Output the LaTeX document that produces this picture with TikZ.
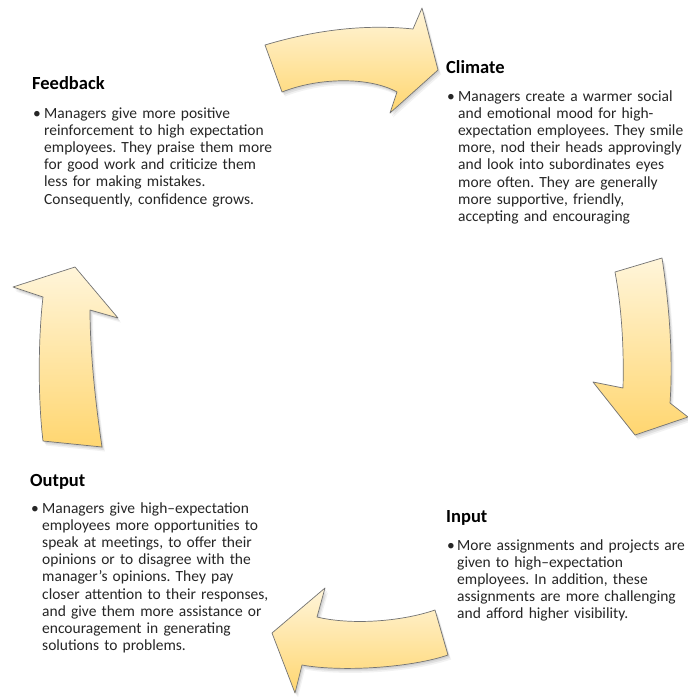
\documentclass[tikz,border=0pt]{standalone}
\usepackage{fontspec}
\setmainfont{Carlito}
\frenchspacing
\definecolor{arrtop}{RGB}{255,245,218}
\definecolor{arrbot}{RGB}{255,214,112}
\definecolor{arrline}{RGB}{115,115,115}
\definecolor{txt}{RGB}{38,38,38}
\def\toparrow{(265,45) .. controls (315,30) and (365,24) .. (413,29) -- (422,8) -- (438,70) -- (390,113) -- (397,92) .. controls (370,77) and (320,77) .. (282,92) -- cycle}
\def\rightarrow{(615,272) -- (662,258) .. controls (670,310) and (673,360) .. (670,403) -- (688,417) -- (635,435) -- (593,382) -- (623,388) .. controls (624,350) and (622,310) .. (615,272) -- cycle}
\def\bottomarrow{(435,610) -- (448,655) .. controls (410,668) and (340,672) .. (302,665) -- (295,693) -- (272,633) -- (325,588) -- (317,617) .. controls (350,625) and (400,622) .. (435,610) -- cycle}
\def\leftarrow{(43,441) .. controls (38,400) and (38,340) .. (43,297) -- (13,287) -- (75,267) -- (118,318) -- (90,310) .. controls (90,350) and (95,400) .. (102,447) -- cycle}
\begin{document}
\begin{tikzpicture}[x=1pt,y=-1pt,
  heading/.style={font=\fontsize{18.5}{22}\selectfont\bfseries, anchor=base west, inner sep=0pt, text=black},
  body/.style={font=\fontsize{15.5}{17.2}\selectfont, anchor=base west, inner sep=0pt, text width=262pt, align=left, text=txt},
  bul/.style={font=\fontsize{15.5}{17.2}\selectfont, anchor=base west, inner sep=0pt, text=txt},
  arrowshape/.style={draw=arrline, line width=0.7pt, line join=round, top color=arrtop, bottom color=arrbot},
  shadowa/.style={fill=black, opacity=0.07, shift={(1,1.5)}},
  shadowb/.style={fill=black, opacity=0.07, shift={(2,3)}},
  shadowc/.style={fill=black, opacity=0.05, shift={(3,4.5)}}]
\fill[white] (0,0) rectangle (688,697);
\path[use as bounding box] (0,0) rectangle (688,697);
% arrows
\foreach \a in {\toparrow,\rightarrow,\bottomarrow,\leftarrow}{
  \fill[shadowc] \a;
  \fill[shadowb] \a;
  \fill[shadowa] \a;
  \shade[arrowshape] \a;
}
% Feedback
\node[heading] (fbh) at (32,89) {Feedback};
\node[bul] (fbb) at (33,118) {•};
\node[body] (fbt) at (44,118) {Managers give more positive\\reinforcement to high expectation\\employees. They praise them more\\for good work and criticize them\\less for making mistakes.\\Consequently, confidence grows.};
% Climate
\node[heading] (clh) at (446,73) {Climate};
\node[bul] (clb) at (447,101) {•};
\node[body] (clt) at (458,101) {Managers create a warmer social\\and emotional mood for high-\\expectation employees. They smile\\more, nod their heads approvingly\\and look into subordinates eyes\\more often. They are generally\\more supportive, friendly,\\accepting and encouraging};
% Output
\node[heading] (oth) at (30,486) {Output};
\node[bul] (otb) at (31,513) {•};
\node[body] (ott) at (42,513) {Managers give high–expectation\\employees more opportunities to\\speak at meetings, to offer their\\opinions or to disagree with the\\manager’s opinions. They pay\\closer attention to their responses,\\and give them more assistance or\\encouragement in generating\\solutions to problems.};
% Input
\node[heading] (inh) at (446,522) {Input};
\node[bul] (inb) at (447,550) {•};
\node[body] (intx) at (457,550) {More assignments and projects are\\given to high–expectation\\employees. In addition, these\\assignments are more challenging\\and afford higher visibility.};
\end{tikzpicture}
\end{document}
